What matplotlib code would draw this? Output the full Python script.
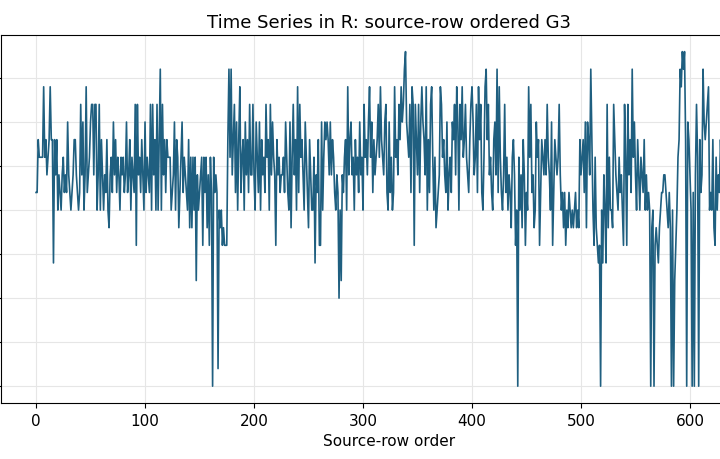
import matplotlib
matplotlib.use("Agg")
import matplotlib.pyplot as plt
import numpy as np

# G3 grade per source row in chunks
G3_PART1 = [11, 11, 14, 13, 13, 13, 13, 17, 13, 14, 12, 13, 14, 17, 14, 14, 7, 14, 12, 14, 10,
            12, 11, 10, 12, 13, 11, 12, 11, 15, 12, 11, 10, 11, 12, 14, 14, 12, 11, 10, 11,
            16, 12, 15, 10, 12, 17, 11, 12, 13, 15, 16, 16, 12, 16, 16, 10, 12, 16, 10, 14,
            12, 10, 12, 11, 14, 10, 9, 12, 13, 11, 15, 12, 14, 11, 13, 12, 10, 13, 12, 13, 11, 12,
            15, 11, 12, 14, 10, 13, 12, 11, 16, 8, 16, 12, 13, 11, 14, 12, 10, 15, 11, 13, 12, 11]
G3_PART2 = [16, 10, 16, 12, 14, 10, 16, 10, 14, 18, 10, 16, 12, 14, 11, 14, 13, 13, 13, 10, 11,
            12, 15, 10, 14, 13, 9, 11, 13, 15, 11, 13, 12, 11, 10, 14, 9, 13, 9, 13, 10,
            13, 6, 12, 10, 11, 12, 13, 8, 13, 11, 13, 9, 12, 8, 13, 11, 0, 13, 11, 12, 11, 1,
            10, 9, 10, 8, 9, 8, 8, 8, 14, 18, 13, 18, 12, 14,
            16, 11, 15, 10, 14, 17, 11, 13, 14, 10, 15, 12, 14, 11, 16, 12, 12, 16, 12, 10,
            15, 13, 11, 15, 10, 14, 12, 13, 11]
G3_PART3 = [16, 13, 14, 10, 16, 12, 15, 13, 12, 8, 14, 12, 13, 11, 12, 12, 13, 11, 15, 13,
            11, 10, 15, 9, 13, 16, 12, 14, 10, 17, 11, 16, 13, 14, 12, 10, 15, 13, 11, 9,
            14, 12, 10, 10, 13, 7, 12, 11, 14, 8, 8, 15, 10, 13, 15, 14, 15, 14, 12, 15,
            12, 14, 13, 11, 10, 12, 11, 5, 10, 6, 12, 11, 13, 14, 10, 17, 12, 14, 15, 12,
            13, 10, 14, 12, 13, 11, 15, 12, 13, 10, 16, 13, 14, 12, 15, 17, 13, 15, 11, 14,
            12, 13, 14, 16, 13, 17, 14, 13, 12, 15]
G3_PART4 = [16, 11, 10, 15, 11, 13, 10, 11, 17, 13, 14, 12, 16, 14, 17, 15, 16, 18, 19, 15,
            14, 13, 16, 11, 17, 16, 8, 16, 14, 12,
            16, 11, 15, 17, 15, 14, 12, 17, 10, 14, 11, 16, 17, 13, 10, 13, 9, 10, 11, 12,
            17, 16, 13, 14, 12, 11, 15, 10, 12, 13,
            11, 15, 14, 16, 12, 17, 15, 10, 16, 14, 17, 13, 14, 16, 13, 12, 11, 14, 16, 17,
            15, 12, 13, 16, 11, 17, 14, 16, 11, 10, 13, 17, 18, 14, 16, 12, 13, 11, 10, 14, 15]
G3_PART5 = [12, 18, 11, 17, 13, 11, 10, 12, 16, 11, 13, 10, 12, 11, 9, 13, 14, 12, 8, 10,
            0, 13, 10, 12, 9, 14, 12, 8, 11, 10, 17, 13, 16, 11, 12, 9, 10, 15, 13, 14,
            8, 11, 14, 13, 12, 14, 12, 16, 13, 12, 10, 15, 8, 11, 14, 13, 12, 13, 16, 12,
            10, 11, 9, 11, 8, 10, 9, 11, 10, 9, 10, 9, 10, 11, 9, 10, 9, 14, 12, 13,
            14, 11, 15, 9, 15, 14, 12, 18, 14, 10, 8, 13, 9, 8, 7, 8, 0, 10, 7, 12]
G3_PART6 = [10, 7, 16, 9, 13, 10, 10, 9, 16, 14, 12, 11, 10, 13, 11, 12, 10, 8, 16, 13,
            8, 16, 12, 14, 11, 18, 13, 15, 12, 10, 14, 12, 10, 13, 12, 11, 14, 10, 12, 10,
            11, 10, 0, 9, 10, 0, 8, 9, 8, 7, 9, 10, 11, 11, 12, 12, 11, 10, 9, 11,
            9, 0, 10, 0, 6, 8, 10, 13, 14, 18, 17, 19, 18, 19, 14, 0, 15, 14, 12, 10,
            0, 11, 0, 12, 16, 13, 0, 14, 11, 12, 18, 15, 14, 15, 16, 17, 10, 11, 10, 14,
            9, 8, 13, 10, 12, 11, 14,
            12, 11, 10, 13, 12, 14, 11, 10, 12, 13, 11, 10, 9, 12, 11, 10, 13, 12, 11, 10, 12]

g3 = G3_PART1 + G3_PART2 + G3_PART3 + G3_PART4 + G3_PART5 + G3_PART6
order = np.arange(len(g3))

fig = plt.figure(figsize=(7.2, 4.6), dpi=100)
# the reference is cropped: the axes run past the left and right edges
ax = fig.add_axes([0.001, 0.122, 1.079, 0.800])
ax.plot(order, g3, color="#1f5f80", linewidth=1.2)
ax.set_xlim(-32.4, 680.4)
ax.set_ylim(-0.95, 19.95)
ax.set_yticks(np.arange(0, 20, 2.5))
ax.set_xticks([0, 100, 200, 300, 400, 500, 600])
ax.grid(True, color="#e6e6e6", linewidth=0.8)
ax.set_axisbelow(True)
ax.set_title("Time Series in R: source-row ordered G3", fontsize=13)
ax.set_xlabel("Source-row order", fontsize=11)
ax.tick_params(labelsize=11)

fig.savefig("out.png", dpi=100)
